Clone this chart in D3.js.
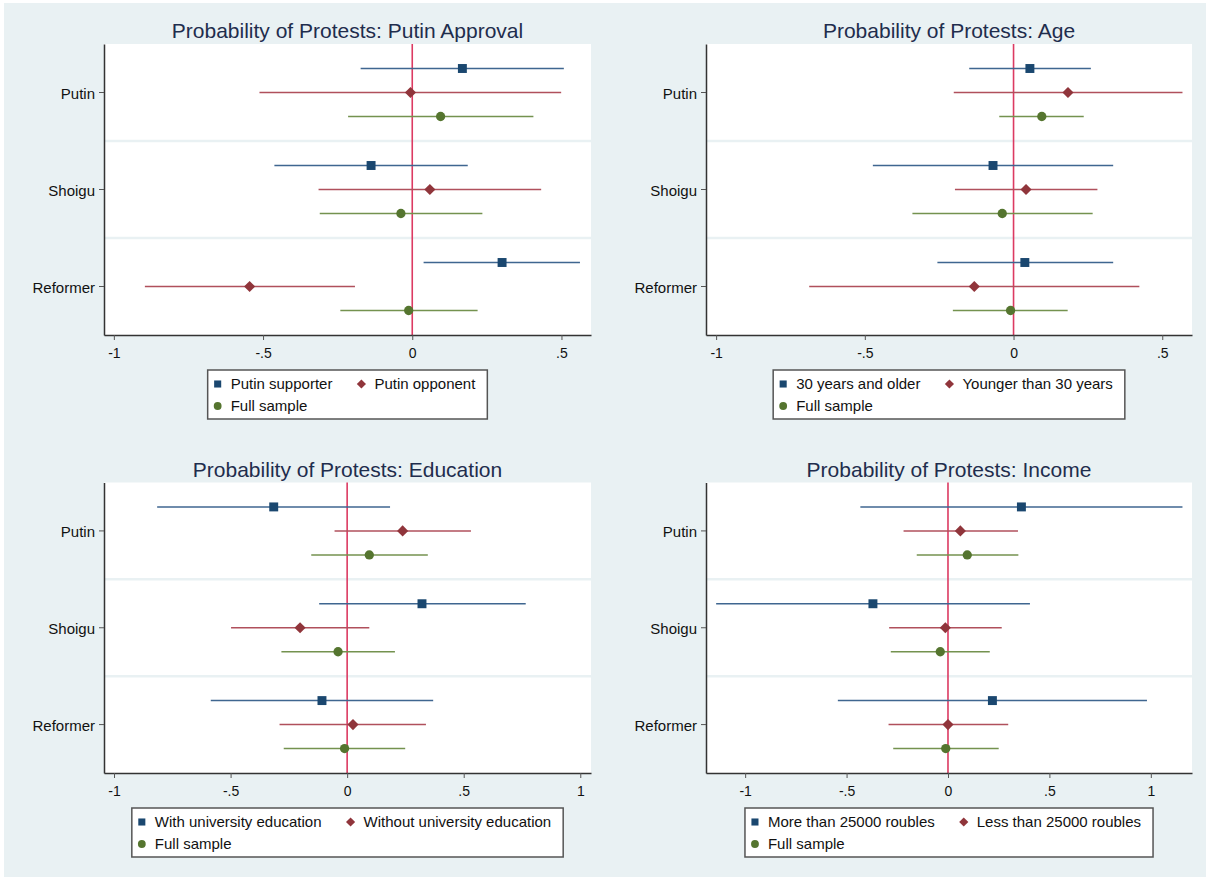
<!DOCTYPE html>
<html>
<head>
<meta charset="utf-8">
<script src="https://cdn.jsdelivr.net/npm/d3@7"></script>
<style>
  body { margin: 0; background: #fff; }
  svg { display: block; font-family: "Liberation Sans", Arial, sans-serif; }
</style>
</head>
<body>
<div id="chart"></div>
<script>
// ---- data ----
var categories = ["Putin", "Shoigu", "Reformer"];
var titles = ["Probability of Protests: Putin Approval", "Probability of Protests: Age",
              "Probability of Protests: Education", "Probability of Protests: Income"];

var approvalSeries = ["Putin supporter", "Putin opponent", "Full sample"];
var ageSeries = ["30 years and older", "Younger than 30 years", "Full sample"];
var educationSeries = ["With university education", "Without university education", "Full sample"];
var incomeSeries = ["More than 25000 roubles", "Less than 25000 roubles", "Full sample"];

// [series][category] : point estimate, lower and upper bound
var approvalEst = [[0.168, -0.138, 0.301], [-0.006, 0.059, -0.545], [0.095, -0.038, -0.012]];
var approvalLo  = [[-0.173, -0.462, 0.038], [-0.512, -0.314, -0.896], [-0.215, -0.310, -0.241]];
var approvalHi  = [[0.508, 0.186, 0.562], [0.499, 0.432, -0.192], [0.406, 0.235, 0.219]];

var ageEst = [[0.055, -0.069, 0.038], [0.183, 0.042, -0.132], [0.095, -0.038, -0.010]];
var ageLo  = [[-0.149, -0.473, -0.256], [-0.201, -0.197, -0.687], [-0.048, -0.340, -0.204]];
var ageHi  = [[0.260, 0.335, 0.335], [0.568, 0.282, 0.423], [0.236, 0.266, 0.182]];

var educationEst = [[-0.315, 0.321, -0.108], [0.238, -0.202, 0.025], [0.095, -0.039, -0.011]];
var educationLo  = [[-0.815, -0.120, -0.585], [-0.054, -0.498, -0.290], [-0.154, -0.282, -0.272]];
var educationHi  = [[0.184, 0.766, 0.369], [0.531, 0.095, 0.338], [0.346, 0.205, 0.249]];

var incomeEst = [[0.362, -0.370, 0.219], [0.061, -0.013, 0.000], [0.095, -0.038, -0.011]];
var incomeLo  = [[-0.432, -1.143, -0.543], [-0.219, -0.290, -0.293], [-0.154, -0.282, -0.270]];
var incomeHi  = [[1.156, 0.404, 0.981], [0.345, 0.265, 0.297], [0.347, 0.206, 0.250]];

var shortTicks = [-1, -0.5, 0, 0.5];
var longTicks = [-1, -0.5, 0, 0.5, 1];
var tickLabels = {"-1": "-1", "-0.5": "-.5", "0": "0", "0.5": ".5", "1": "1"};

// ---- style ----
var markColors = ["#1a476f", "#90353b", "#55752f"];
var lineColors = ["#3f6690", "#b0505c", "#74924f"];
var bg = "#e9f1f3";

// square, diamond (square turned 45 degrees), circle
function marker(i, size) {
    if (i === 2) return d3.symbol().type(d3.symbolCircle).size(size)();
    return d3.symbol().type(d3.symbolSquare).size(size)();
}
function markerRot(i) { return i === 1 ? " rotate(45)" : ""; }

var panels = [
  {title: titles[0], series: approvalSeries, est: approvalEst, lo: approvalLo, hi: approvalHi,
   domain: [-1.033, 0.599], ticks: shortTicks, x0: 104, x1: 591, y0: 44, y1: 335},
  {title: titles[1], series: ageSeries, est: ageEst, lo: ageLo, hi: ageHi,
   domain: [-1.034, 0.600], ticks: shortTicks, x0: 706, x1: 1192, y0: 44, y1: 335},
  {title: titles[2], series: educationSeries, est: educationEst, lo: educationLo, hi: educationHi,
   domain: [-1.043, 1.046], ticks: longTicks, x0: 104, x1: 591, y0: 482.5, y1: 773},
  {title: titles[3], series: incomeSeries, est: incomeEst, lo: incomeLo, hi: incomeHi,
   domain: [-1.193, 1.203], ticks: longTicks, x0: 706, x1: 1192, y0: 482.5, y1: 773}
];

var width = 1206, height = 877;

var svg = d3.select("#chart").append("svg")
    .attr("width", width)
    .attr("height", height);

svg.append("rect").attr("width", width).attr("height", height).attr("fill", "#fff");
svg.append("rect").attr("x", 4).attr("y", 3)
    .attr("width", width - 4).attr("height", height - 3).attr("fill", bg);

panels.forEach(function(p) {
    var g = svg.append("g");

    var x = d3.scaleLinear().domain(p.domain).range([p.x0, p.x1]);
    var y = d3.scaleBand().domain(categories).range([p.y0, p.y1]);
    var off = d3.scalePoint().domain([0, 1, 2]).range([-24, 24]);

    // plot region
    g.append("rect")
        .attr("x", p.x0).attr("y", p.y0)
        .attr("width", p.x1 - p.x0).attr("height", p.y1 - p.y0)
        .attr("fill", "#fff");

    // light separators between the groups
    g.selectAll(".sep")
        .data(categories.slice(1))
        .enter().append("line")
        .attr("x1", p.x0).attr("x2", p.x1)
        .attr("y1", function(d) { return y(d); })
        .attr("y2", function(d) { return y(d); })
        .attr("stroke", bg).attr("stroke-width", 2.5);

    // title
    g.append("text")
        .attr("x", (p.x0 + p.x1) / 2)
        .attr("y", p.y0 - 6)
        .attr("text-anchor", "middle")
        .style("font-size", "21px")
        .style("fill", "#1f2d4d")
        .text(p.title);

    // reference line at zero
    g.append("line")
        .attr("x1", x(0)).attr("x2", x(0))
        .attr("y1", p.y0).attr("y2", p.y1)
        .attr("stroke", "#dc3a62").attr("stroke-width", 1.6);

    // rows: one per series and category
    var rows = [];
    p.series.forEach(function(s, i) {
        categories.forEach(function(c, j) {
            rows.push({s: i, cat: c, est: p.est[i][j], lo: p.lo[i][j], hi: p.hi[i][j]});
        });
    });

    g.selectAll(".ci")
        .data(rows)
        .enter().append("line")
        .attr("x1", function(d) { return x(d.lo); })
        .attr("x2", function(d) { return x(d.hi); })
        .attr("y1", function(d) { return y(d.cat) + y.bandwidth() / 2 + off(d.s); })
        .attr("y2", function(d) { return y(d.cat) + y.bandwidth() / 2 + off(d.s); })
        .attr("stroke", function(d) { return lineColors[d.s]; })
        .attr("stroke-width", 1.5);

    var sizes = [80, 62, 68];
    g.selectAll(".pt")
        .data(rows)
        .enter().append("path")
        .attr("transform", function(d) {
            return "translate(" + x(d.est) + "," + (y(d.cat) + y.bandwidth() / 2 + off(d.s)) + ")" + markerRot(d.s);
        })
        .attr("d", function(d) { return marker(d.s, sizes[d.s]); })
        .attr("fill", function(d) { return markColors[d.s]; });

    // axes
    var xAxis = g.append("g")
        .attr("transform", "translate(0," + p.y1 + ")")
        .call(d3.axisBottom(x).tickValues(p.ticks).tickSize(5).tickSizeOuter(0)
            .tickFormat(function(d) { return tickLabels[String(d)]; }));
    xAxis.attr("font-family", null);
    xAxis.select(".domain").attr("stroke", "#333").attr("stroke-width", 1.5);
    xAxis.selectAll(".tick line").attr("stroke", "#555");
    xAxis.selectAll(".tick text").attr("y", 13).attr("dy", "0.71em")
        .style("font-size", "14px").style("fill", "#111");

    var yAxis = g.append("g")
        .attr("transform", "translate(" + p.x0 + ",0)")
        .call(d3.axisLeft(y).tickSize(5).tickSizeOuter(0));
    yAxis.attr("font-family", null);
    yAxis.select(".domain").attr("stroke", "#333").attr("stroke-width", 1.5);
    yAxis.selectAll(".tick line").attr("stroke", "#555");
    yAxis.selectAll(".tick text").attr("x", -9).attr("dy", "0.4em")
        .style("font-size", "15px").style("fill", "#111");

    // legend
    var lg = g.append("g");
    var box = lg.append("rect");
    var colW = [0, 0];
    var items = p.series.map(function(s, i) { return {label: s, i: i, col: i % 2, row: Math.floor(i / 2)}; });
    var texts = lg.selectAll(".lt").data(items).enter().append("text")
        .style("font-size", "15px").style("fill", "#111")
        .attr("dy", "0.35em")
        .text(function(d) { return d.label; });
    texts.each(function(d) { colW[d.col] = Math.max(colW[d.col], this.getComputedTextLength()); });
    var col2 = 23 + colW[0] + 29;
    var boxW = col2 + 13 + colW[1] + 12;
    var bx = (p.x0 + p.x1) / 2 - boxW / 2;
    var by = p.y1 + 35;
    box.attr("x", bx).attr("y", by).attr("width", boxW).attr("height", 49)
        .attr("fill", "#fff").attr("stroke", "#555").attr("stroke-width", 1.5);
    function keyX(d) { return bx + (d.col === 0 ? 10 : col2); }
    texts.attr("x", function(d) { return keyX(d) + 13; })
        .attr("y", function(d) { return by + 14 + d.row * 22; });
    var lsizes = [50, 42, 48];
    lg.selectAll(".lk").data(items).enter().append("path")
        .attr("transform", function(d) {
            return "translate(" + keyX(d) + "," + (by + 14 + d.row * 22) + ")" + markerRot(d.i);
        })
        .attr("d", function(d) { return marker(d.i, lsizes[d.i]); })
        .attr("fill", function(d) { return markColors[d.i]; });
});
</script>
</body>
</html>
